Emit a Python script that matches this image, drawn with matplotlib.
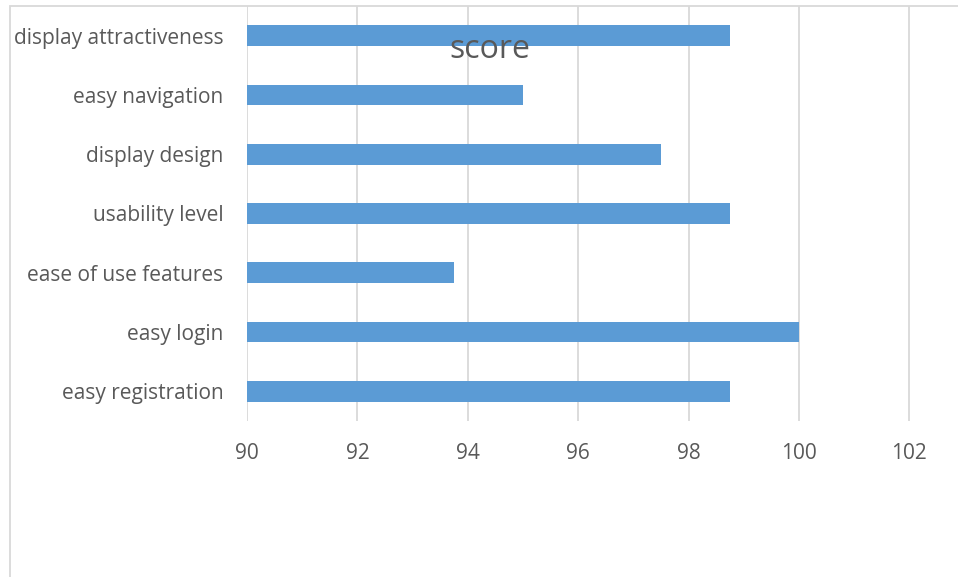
import matplotlib.pyplot as plt
from matplotlib.patches import Rectangle

categories = ["easy registration", "easy login", "ease of use features",
              "usability level", "display design", "easy navigation",
              "display attractiveness"]
scores = [98.75, 100, 93.75, 98.75, 97.5, 95, 98.75]
xticks = [90, 92, 94, 96, 98, 100, 102]

plt.rcParams['font.family'] = ['Open Sans', 'DejaVu Sans']
txt = '#595959'

fig = plt.figure(figsize=(9.58, 5.77), dpi=100)
W, H = 958, 577
ax = fig.add_axes([247 / W, 1 - 421 / H, (W - 247) / W, (421 - 6) / H])

ax.barh(range(len(categories)), [s - 90 for s in scores], left=90,
        height=0.35, color='#5B9BD5', zorder=3)

ax.set_xlim(90, 102 + (958 - 909.3) / 55.15)
ax.set_ylim(-0.5, len(categories) - 0.5)
ax.set_xticks(xticks)
ax.set_xticklabels([str(t) for t in xticks])
ax.set_yticks(range(len(categories)))
ax.set_yticklabels(categories)
ax.tick_params(axis='both', length=0, colors=txt, labelsize=15)
ax.tick_params(axis='x', pad=16)
ax.tick_params(axis='y', pad=17)
ax.grid(axis='x', color='#d9d9d9', linewidth=1.3, zorder=0)
for s in ax.spines.values():
    s.set_visible(False)

ax.text(0.342, 0.894, "score", transform=ax.transAxes, ha='center', va='center',
        fontsize=23, color=txt)

# chart border
fig.patches.append(Rectangle((10 / W, -0.1), 2, 1 - 6 / H + 0.1,
                             transform=fig.transFigure, fill=False,
                             edgecolor='#d9d9d9', linewidth=1.3))

fig.savefig('out.png', dpi=100)
